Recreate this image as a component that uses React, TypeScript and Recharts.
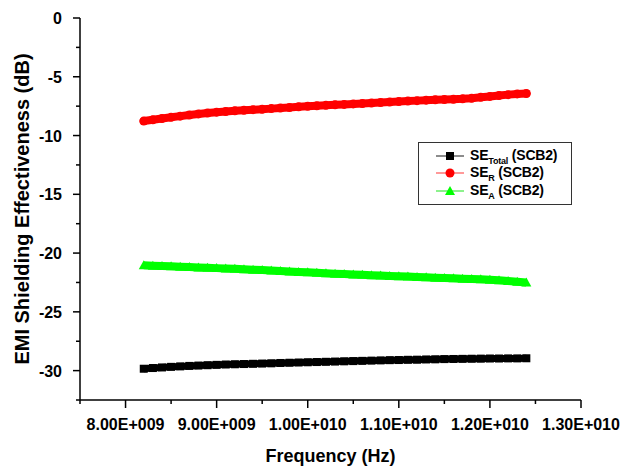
import React from "react";
import { Legend, Line, LineChart, XAxis, YAxis } from "recharts";

// frequency sweep (Hz), X band
const frequency = [
  8.2e9, 8.3e9, 8.4e9, 8.5e9, 8.6e9, 8.7e9, 8.8e9, 8.9e9, 9.0e9, 9.1e9, 9.2e9, 9.3e9, 9.4e9, 9.5e9, 9.6e9,
  9.7e9, 9.8e9, 9.9e9, 10.0e9, 10.1e9, 10.2e9, 10.3e9, 10.4e9, 10.5e9, 10.6e9, 10.7e9, 10.8e9, 10.9e9,
  11.0e9, 11.1e9, 11.2e9, 11.3e9, 11.4e9, 11.5e9, 11.6e9, 11.7e9, 11.8e9, 11.9e9, 12.0e9, 12.1e9, 12.2e9,
  12.3e9, 12.4e9,
];

const seTotal = [
  -29.84, -29.78, -29.73, -29.68, -29.64, -29.6, -29.57, -29.54, -29.51, -29.48, -29.46, -29.44, -29.42,
  -29.4, -29.38, -29.35, -29.33, -29.31, -29.29, -29.27, -29.25, -29.23, -29.21, -29.19, -29.17, -29.15,
  -29.13, -29.11, -29.1, -29.08, -29.07, -29.05, -29.04, -29.02, -29.01, -29.0, -28.99, -28.98, -28.97,
  -28.97, -28.96, -28.96, -28.95,
];

const seR = [
  -8.77, -8.66, -8.55, -8.45, -8.35, -8.25, -8.16, -8.08, -8.01, -7.95, -7.9, -7.85, -7.8, -7.76, -7.71,
  -7.66, -7.61, -7.56, -7.51, -7.47, -7.43, -7.39, -7.35, -7.31, -7.27, -7.23, -7.19, -7.15, -7.11, -7.07,
  -7.03, -6.99, -6.96, -6.93, -6.91, -6.88, -6.83, -6.75, -6.67, -6.59, -6.52, -6.46, -6.42,
];

const seA = [
  -21.04, -21.07, -21.1, -21.13, -21.16, -21.19, -21.22, -21.25, -21.28, -21.31, -21.34, -21.37, -21.41,
  -21.44, -21.48, -21.52, -21.56, -21.6, -21.64, -21.68, -21.72, -21.76, -21.79, -21.82, -21.85, -21.88,
  -21.91, -21.94, -21.97, -22.0, -22.03, -22.06, -22.09, -22.12, -22.15, -22.18, -22.2, -22.23, -22.27,
  -22.32, -22.38, -22.44, -22.5,
];

const xTicks = [7.5e9, 8e9, 8.5e9, 9e9, 9.5e9, 1e10, 1.05e10, 1.1e10, 1.15e10, 1.2e10, 1.25e10, 1.3e10];
const xLabels: Record<number, string> = {
  8e9: "8.00E+009",
  9e9: "9.00E+009",
  1e10: "1.00E+010",
  1.1e10: "1.10E+010",
  1.2e10: "1.20E+010",
  1.3e10: "1.30E+010",
};
const yTicks = [-32.5, -30, -27.5, -25, -22.5, -20, -17.5, -15, -12.5, -10, -7.5, -5, -2.5, 0];

const data = frequency.map((f, i) => ({ f, total: seTotal[i], r: seR[i], a: seA[i] }));

const FONT = '"Liberation Sans", Arial, Helvetica, sans-serif';

function XTick({ x, y, payload }: any) {
  const label = xLabels[payload.value];
  return (
    <g>
      <line x1={x} x2={x} y1={y} y2={y + (label ? 8 : 4)} stroke="#000" strokeWidth={1.5} />
      {label && (
        <text x={x} y={y + 30} textAnchor="middle" fontFamily={FONT} fontWeight="bold" fontSize={16} fill="#000">
          {label}
        </text>
      )}
    </g>
  );
}

function YTick({ x, y, payload }: any) {
  const major = payload.value % 5 === 0;
  return (
    <g>
      <line x1={x - (major ? 7 : 4)} x2={x} y1={y} y2={y} stroke="#000" strokeWidth={1.5} />
      {major && (
        <text x={x - 18} y={y + 6} textAnchor="end" fontFamily={FONT} fontWeight="bold" fontSize={16} fill="#000">
          {payload.value}
        </text>
      )}
    </g>
  );
}

function SquareDot({ cx, cy, index }: any) {
  return <rect key={index} x={cx - 4} y={cy - 4} width={8} height={8} fill="#000" />;
}
function CircleDot({ cx, cy, index }: any) {
  return <circle key={index} cx={cx} cy={cy} r={4.5} fill="#ff0000" />;
}
function TriangleDot({ cx, cy, index }: any) {
  return <path key={index} d={`M${cx},${cy - 5}L${cx + 5},${cy + 4}L${cx - 5},${cy + 4}Z`} fill="#00ff00" />;
}

const legendRows = [
  { sub: "Total", line: "#666", marker: "square", color: "#000" },
  { sub: "R", line: "#ff7777", marker: "circle", color: "#ff0000" },
  { sub: "A", line: "#66ee66", marker: "triangle", color: "#00ff00" },
];

function LegendBox() {
  return (
    <div
      style={{
        border: "1.5px solid #333",
        background: "#fff",
        width: 154,
        height: 63,
        boxSizing: "border-box",
        paddingTop: 4,
        fontFamily: FONT,
        fontWeight: "bold",
        fontSize: 14,
        color: "#000",
      }}
    >
      {legendRows.map((row) => (
        <div key={row.sub} style={{ display: "flex", alignItems: "center", height: 17.5, lineHeight: "14px" }}>
          <svg width={48} height={14} style={{ marginLeft: 1 }}>
            <line x1={16} x2={44} y1={7} y2={7} stroke={row.line} strokeWidth={1.5} />
            {row.marker === "square" && <rect x={26} y={3} width={8} height={8} fill={row.color} />}
            {row.marker === "circle" && <circle cx={30} cy={7} r={4.5} fill={row.color} />}
            {row.marker === "triangle" && <path d="M30,2L35,11L25,11Z" fill={row.color} />}
          </svg>
          <span style={{ marginLeft: 2, whiteSpace: "nowrap", letterSpacing: -0.2 }}>
            SE<span style={{ fontSize: 9, position: "relative", top: 4 }}>{row.sub}</span> (SCB2)
          </span>
        </div>
      ))}
    </div>
  );
}

export default function App() {
  return (
    <div style={{ position: "absolute", left: 0, top: 0, width: 628, height: 467, background: "#fff" }}>
      <LineChart width={628} height={467} data={data} margin={{ top: 18, right: 47, left: 0, bottom: 0 }}>
        <XAxis
          dataKey="f"
          type="number"
          domain={[7.5e9, 1.3e10]}
          ticks={xTicks}
          interval={0}
          tick={<XTick />}
          tickSize={0}
          tickMargin={0}
          tickLine={false}
          height={67}
          axisLine={{ stroke: "#000", strokeWidth: 1.5 }}
          allowDataOverflow
          label={{
            value: "Frequency (Hz)",
            position: "insideBottom",
            offset: 5,
            fontFamily: FONT,
            fontWeight: "bold",
            fontSize: 18,
            fill: "#000",
          }}
        />
        <YAxis
          type="number"
          domain={[-32.5, 0]}
          ticks={yTicks}
          interval={0}
          tick={<YTick />}
          tickSize={0}
          tickMargin={0}
          tickLine={false}
          width={80}
          axisLine={{ stroke: "#000", strokeWidth: 1.5 }}
          allowDataOverflow
          label={{
            value: "EMI Shielding Effectiveness (dB)",
            angle: -90,
            position: "insideLeft",
            offset: 22,
            style: { textAnchor: "middle" },
            fontFamily: FONT,
            fontWeight: "bold",
            fontSize: 20,
            fill: "#000",
          }}
        />
        <Legend
          layout="horizontal"
          verticalAlign="middle"
          align="center"
          content={<LegendBox />}
          wrapperStyle={{ left: 418, top: 142, width: 154, height: 63 }}
        />
        <Line
          dataKey="total"
          stroke="#000"
          strokeWidth={7}
          dot={SquareDot}
          activeDot={false}
          isAnimationActive={false}
        />
        <Line
          dataKey="r"
          stroke="#ff0000"
          strokeWidth={8}
          strokeLinecap="round"
          dot={CircleDot}
          activeDot={false}
          isAnimationActive={false}
        />
        <Line dataKey="a" stroke="#00ff00" strokeWidth={8} dot={TriangleDot} activeDot={false} isAnimationActive={false} />
      </LineChart>
    </div>
  );
}
